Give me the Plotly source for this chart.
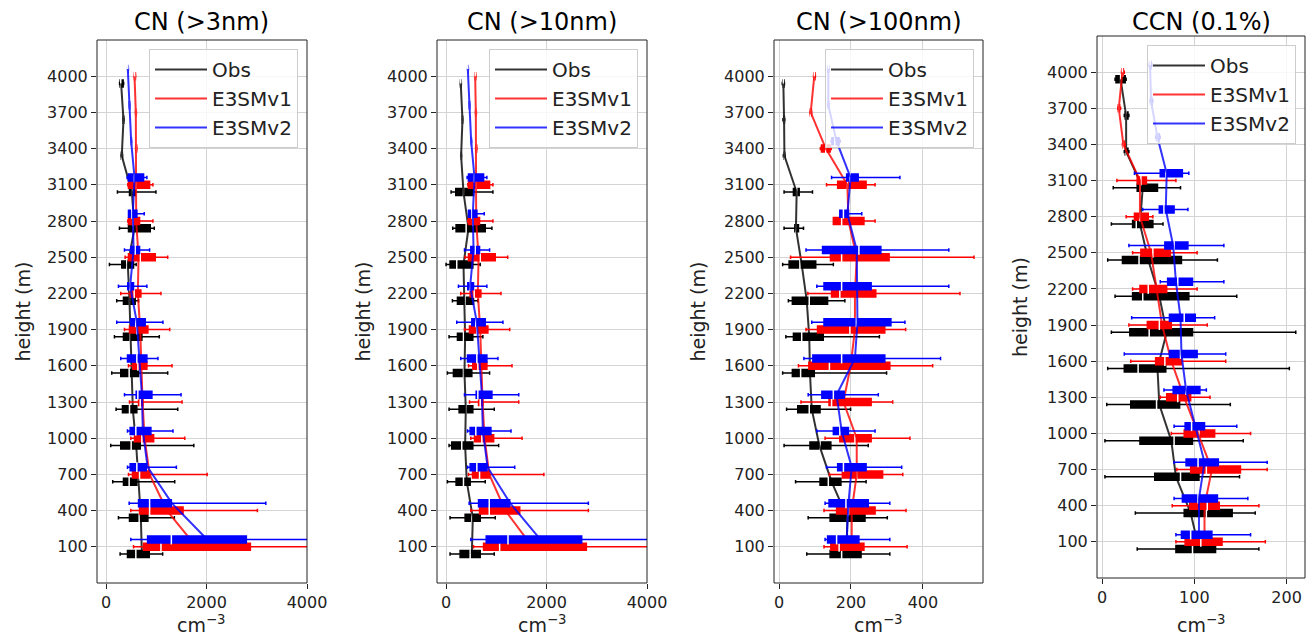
import plotly.graph_objects as go

W, H = 1307, 637

heights = [100, 400, 700, 1000, 1300, 1600, 1900, 2200, 2500, 2800, 3100, 3400, 3700, 4000]

# ---------------- CN (>3nm) ----------------
cn3_obs_lo   = [280, 247, 133, 93, 200, 113, 167, 213, 67, 267, 227, 300, 335, 270]
cn3_obs_q1   = [427, 467, 347, 293, 327, 293, 347, 347, 313, 447, 467, 305, 340, 280]
cn3_obs_med  = [593, 660, 460, 500, 467, 460, 480, 467, 413, 547, 513, 313, 347, 293]
cn3_obs_q3   = [860, 833, 613, 680, 613, 647, 713, 580, 547, 880, 580, 325, 355, 340]
cn3_obs_hi   = [1127, 1360, 1367, 1747, 1427, 1227, 1060, 647, 600, 960, 993, 330, 360, 350]
cn3_obs_mean = [713, 693, 647, 600, 533, 513, 493, 467, 433, 567, 513, 313, 347, 300]

cn3_v1_lo   = [547, 493, 447, 493, 467, 447, 367, 293, 380, 433, 433, 590, 585, 560]
cn3_v1_q1   = [747, 667, 527, 567, 647, 533, 467, 480, 447, 447, 447, 595, 590, 565]
cn3_v1_med  = [1093, 867, 667, 713, 680, 633, 613, 560, 680, 533, 600, 600, 593, 570]
cn3_v1_q3   = [2873, 1533, 867, 947, 733, 813, 833, 693, 980, 667, 867, 610, 600, 585]
cn3_v1_hi   = [4800, 3013, 2013, 1567, 1513, 1313, 1267, 1093, 1227, 933, 933, 615, 605, 590]
cn3_v1_mean = [1800, 1213, 867, 767, 727, 700, 680, 633, 647, 600, 600, 600, 593, 567]

cn3_v2_lo   = [493, 460, 427, 427, 367, 293, 213, 247, 367, 447, 420, 495, 460, 430]
cn3_v2_q1   = [827, 647, 480, 480, 600, 427, 493, 433, 493, 447, 447, 497, 462, 432]
cn3_v2_med  = [1300, 867, 613, 593, 633, 613, 593, 480, 580, 513, 560, 500, 467, 433]
cn3_v2_q3   = [2793, 1300, 800, 893, 913, 813, 780, 547, 667, 613, 747, 505, 472, 440]
cn3_v2_hi   = [4500, 3180, 1400, 1333, 1493, 1033, 1133, 813, 867, 760, 813, 510, 475, 445]
cn3_v2_mean = [2013, 1313, 827, 733, 713, 667, 613, 480, 547, 533, 567, 500, 467, 433]

# ---------------- CN (>10nm) ----------------
cn10_obs_lo   = [80, 80, 27, 60, 60, 27, 60, 127, 0, 133, 100, 295, 320, 285]
cn10_obs_q1   = [280, 380, 200, 113, 260, 147, 227, 227, 80, 200, 193, 297, 323, 288]
cn10_obs_med  = [480, 513, 347, 313, 400, 347, 347, 380, 213, 400, 347, 300, 327, 293]
cn10_obs_q3   = [680, 680, 480, 533, 533, 513, 533, 547, 533, 780, 547, 305, 332, 300]
cn10_obs_hi   = [960, 980, 780, 1047, 960, 867, 733, 633, 680, 913, 933, 310, 335, 305]
cn10_obs_mean = [513, 533, 413, 380, 393, 367, 380, 367, 347, 447, 347, 300, 327, 293]

cn10_v1_lo   = [547, 493, 447, 493, 467, 447, 367, 293, 380, 433, 433, 590, 585, 570]
cn10_v1_q1   = [747, 667, 527, 567, 647, 533, 467, 480, 447, 447, 447, 595, 590, 575]
cn10_v1_med  = [1067, 860, 667, 713, 680, 633, 613, 560, 680, 533, 600, 600, 593, 580]
cn10_v1_q3   = [2793, 1467, 867, 947, 733, 813, 833, 693, 980, 667, 867, 610, 600, 590]
cn10_v1_hi   = [4800, 2833, 1947, 1513, 1447, 1313, 1267, 1093, 1227, 933, 933, 615, 605, 595]
cn10_v1_mean = [1720, 1180, 860, 767, 727, 700, 680, 633, 647, 600, 600, 600, 593, 580]

cn10_v2_lo   = [493, 460, 427, 427, 367, 293, 213, 247, 367, 447, 420, 495, 460, 430]
cn10_v2_q1   = [800, 647, 480, 480, 600, 427, 513, 433, 493, 447, 447, 497, 462, 432]
cn10_v2_med  = [1233, 860, 613, 593, 633, 613, 593, 480, 580, 513, 560, 500, 467, 433]
cn10_v2_q3   = [2700, 1267, 813, 893, 913, 813, 780, 547, 667, 613, 747, 505, 472, 440]
cn10_v2_hi   = [4500, 2833, 1367, 1293, 1447, 1033, 1133, 813, 867, 760, 813, 510, 475, 445]
cn10_v2_mean = [1880, 1280, 827, 733, 713, 667, 613, 480, 547, 533, 567, 500, 467, 433]

# ---------------- CN (>100nm) ----------------
cn100_obs_lo   = [77, 81, 46, 14, 21, 10, 19, 26, 10, 14, 14, 12, 11, 9]
cn100_obs_q1   = [142, 142, 114, 86, 52, 37, 40, 37, 28, 44, 40, 14, 13, 11]
cn100_obs_med  = [174, 190, 137, 114, 84, 60, 63, 84, 58, 47, 49, 15, 14, 12]
cn100_obs_q3   = [228, 239, 172, 144, 114, 98, 123, 135, 102, 54, 56, 16, 15, 14]
cn100_obs_hi   = [308, 301, 242, 248, 199, 299, 279, 183, 151, 68, 93, 17, 16, 15]
cn100_obs_mean = [188, 190, 146, 112, 91, 86, 84, 77, 63, 47, 49, 15, 14, 12]

cn100_v1_lo   = [125, 125, 140, 128, 61, 54, 75, 80, 32, 151, 132, 115, 86, 96]
cn100_v1_q1   = [144, 160, 176, 169, 139, 83, 107, 146, 143, 151, 163, 118, 87, 97]
cn100_v1_med  = [167, 193, 216, 211, 146, 140, 197, 169, 174, 174, 190, 130, 88, 98]
cn100_v1_q3   = [236, 267, 288, 256, 256, 308, 294, 269, 306, 236, 242, 142, 90, 100]
cn100_v1_hi   = [356, 353, 344, 364, 316, 427, 352, 503, 542, 267, 267, 145, 91, 101]
cn100_v1_mean = [202, 202, 216, 216, 179, 199, 211, 211, 216, 193, 190, 130, 88, 98]

cn100_v2_lo   = [128, 128, 132, 105, 81, 69, 91, 105, 75, 169, 146, 145, 135, 135]
cn100_v2_q1   = [135, 139, 163, 151, 119, 94, 125, 125, 121, 169, 188, 147, 136, 136]
cn100_v2_med  = [160, 186, 179, 169, 151, 174, 215, 174, 222, 179, 197, 155, 137, 137]
cn100_v2_q3   = [222, 248, 242, 193, 181, 294, 311, 256, 283, 193, 220, 167, 138, 138]
cn100_v2_hi   = [308, 308, 341, 267, 276, 449, 350, 472, 472, 230, 336, 170, 139, 139]
cn100_v2_mean = [188, 193, 202, 174, 160, 211, 218, 218, 216, 190, 199, 160, 137, 137]

# ---------------- CCN (0.1%) ----------------
ccn_obs_lo   = [38, 36, 3, 3, 5, 6, 10, 14, 6, 10, 12, 24, 24, 14]
ccn_obs_q1   = [80, 89, 57, 41, 31, 24, 30, 33, 22, 33, 38, 25, 25, 15]
ccn_obs_med  = [98, 113, 85, 78, 59, 39, 51, 44, 40, 37, 41, 26, 26, 20]
ccn_obs_q3   = [123, 141, 105, 98, 84, 69, 98, 94, 86, 55, 60, 28, 28, 25]
ccn_obs_hi   = [170, 166, 149, 153, 139, 203, 210, 146, 125, 66, 85, 29, 29, 26]
ccn_obs_mean = [105, 96, 80, 75, 62, 60, 70, 62, 50, 41, 44, 26, 26, 20]

ccn_v1_lo   = [80, 76, 81, 75, 63, 31, 29, 33, 33, 26, 16, 22, 17, 21]
ccn_v1_q1   = [90, 95, 96, 89, 70, 58, 49, 41, 42, 35, 38, 22.5, 17.5, 21.5]
ccn_v1_med  = [107, 114, 113, 105, 82, 68, 62, 50, 55, 41, 42, 23, 18, 22]
ccn_v1_q3   = [130, 127, 150, 122, 96, 86, 75, 70, 74, 50, 48, 24, 19, 23]
ccn_v1_hi   = [177, 170, 179, 161, 117, 134, 114, 103, 103, 55, 80, 25, 20, 24]
ccn_v1_mean = [111, 111, 119, 104, 89, 75, 65, 59, 53, 41, 41, 23, 18, 22]

ccn_v2_lo   = [80, 78, 78, 78, 67, 24, 32, 63, 29, 44, 35, 58, 52, 51]
ccn_v2_q1   = [86, 87, 91, 90, 77, 73, 73, 71, 68, 62, 63, 59, 52.5, 51.5]
ccn_v2_med  = [96, 104, 104, 97, 91, 85, 89, 82, 78, 67, 69, 60, 53, 52]
ccn_v2_q3   = [119, 125, 126, 111, 106, 103, 101, 98, 93, 78, 87, 62, 54, 53]
ccn_v2_hi   = [161, 158, 179, 146, 113, 134, 122, 132, 132, 93, 94, 63, 55, 54]
ccn_v2_mean = [105, 105, 111, 101, 91, 86, 85, 80, 77, 69, 70, 60, 53, 52]

titles = ["CN (>3nm)", "CN (>10nm)", "CN (>100nm)", "CCN (0.1%)"]
series_names = ["Obs", "E3SMv1", "E3SMv2"]
series_colors = ["black", "#ff0000", "#0000ff"]
height_offsets = [-60, 0, 60]
x_ticks = [[0, 2000, 4000], [0, 2000, 4000], [0, 200, 400], [0, 100, 200]]
x_ranges = [[-180, 4000], [-180, 4000], [-14, 567], [-5.6, 220]]

panel_data = [
    [(cn3_obs_lo, cn3_obs_q1, cn3_obs_med, cn3_obs_q3, cn3_obs_hi, cn3_obs_mean),
     (cn3_v1_lo, cn3_v1_q1, cn3_v1_med, cn3_v1_q3, cn3_v1_hi, cn3_v1_mean),
     (cn3_v2_lo, cn3_v2_q1, cn3_v2_med, cn3_v2_q3, cn3_v2_hi, cn3_v2_mean)],
    [(cn10_obs_lo, cn10_obs_q1, cn10_obs_med, cn10_obs_q3, cn10_obs_hi, cn10_obs_mean),
     (cn10_v1_lo, cn10_v1_q1, cn10_v1_med, cn10_v1_q3, cn10_v1_hi, cn10_v1_mean),
     (cn10_v2_lo, cn10_v2_q1, cn10_v2_med, cn10_v2_q3, cn10_v2_hi, cn10_v2_mean)],
    [(cn100_obs_lo, cn100_obs_q1, cn100_obs_med, cn100_obs_q3, cn100_obs_hi, cn100_obs_mean),
     (cn100_v1_lo, cn100_v1_q1, cn100_v1_med, cn100_v1_q3, cn100_v1_hi, cn100_v1_mean),
     (cn100_v2_lo, cn100_v2_q1, cn100_v2_med, cn100_v2_q3, cn100_v2_hi, cn100_v2_mean)],
    [(ccn_obs_lo, ccn_obs_q1, ccn_obs_med, ccn_obs_q3, ccn_obs_hi, ccn_obs_mean),
     (ccn_v1_lo, ccn_v1_q1, ccn_v1_med, ccn_v1_q3, ccn_v1_hi, ccn_v1_mean),
     (ccn_v2_lo, ccn_v2_q1, ccn_v2_med, ccn_v2_q3, ccn_v2_hi, ccn_v2_mean)],
]

# pixel layout of each panel: (left, right, top, bottom)
panel_px = [(97, 307, 40, 583), (437, 647, 40, 583), (774, 983, 40, 583), (1097, 1305, 36, 578)]
ytitle_px = [22, 362, 697, 1020]

FONT = "DejaVu Sans"
fig = go.Figure()
layout = dict(
    width=W, height=H, margin=dict(l=0, r=0, t=0, b=0, pad=0, autoexpand=False),
    autosize=False, paper_bgcolor="white", plot_bgcolor="white",
    font=dict(family=FONT, color="black", size=16),
    annotations=[], shapes=[],
)

for i in range(4):
    xa = "x" if i == 0 else f"x{i+1}"
    ya = "y" if i == 0 else f"y{i+1}"
    leg = "legend" if i == 0 else f"legend{i+1}"
    l, r, t, b = panel_px[i]
    for k in range(3):
        lo, q1, med, q3, hi, mean = panel_data[i][k]
        pos = [h + height_offsets[k] for h in heights]
        c = series_colors[k]
        fig.add_trace(go.Box(
            y=pos, q1=q1, median=med, q3=q3, lowerfence=lo, upperfence=hi,
            orientation="h", width=58, whiskerwidth=0.5, boxpoints=False,
            fillcolor=c, line=dict(color=c, width=1.5),
            xaxis=xa, yaxis=ya, showlegend=False, hoverinfo="skip", zorder=2 * k))
        fig.add_trace(go.Scatter(
            x=med, y=pos, mode="markers",
            marker=dict(symbol="line-ns", size=7, color="white",
                        line=dict(color="white", width=1.5)),
            xaxis=xa, yaxis=ya, showlegend=False, hoverinfo="skip", zorder=2 * k + 1))
        fig.add_trace(go.Scatter(
            x=mean, y=pos, mode="lines", name=series_names[k],
            line=dict(color=c, width=2), opacity=0.8,
            xaxis=xa, yaxis=ya, legend=leg, hoverinfo="skip", zorder=2 * k + 1))

    xkey = "xaxis" if i == 0 else f"xaxis{i+1}"
    ykey = "yaxis" if i == 0 else f"yaxis{i+1}"
    layout[xkey] = dict(
        domain=[l / W, r / W], anchor=ya, range=x_ranges[i], tickvals=x_ticks[i],
        automargin=False,
        showgrid=True, gridcolor="#d4d4d4", gridwidth=1, zeroline=False,
        showline=True, linecolor="#222", linewidth=1, mirror=True, layer="above traces",
        ticks="outside", ticklen=5, tickcolor="#222",
        tickfont=dict(size=16, family=FONT, color="#222"))
    layout[ykey] = dict(
        domain=[1 - b / H, 1 - t / H], anchor=xa, range=[-200, 4300], tickvals=heights,
        automargin=False,
        showgrid=True, gridcolor="#d4d4d4", gridwidth=1, zeroline=False,
        showline=True, linecolor="#222", linewidth=1, mirror=True, layer="above traces",
        ticks="outside", ticklen=5, tickcolor="#222",
        tickfont=dict(size=16, family=FONT, color="#222"))
    layout[leg] = dict(
        x=(r - 9) / W, y=1 - (t + 9) / H, xanchor="right", yanchor="top",
        bgcolor="rgba(255,255,255,0.8)", bordercolor="#cccccc", borderwidth=1,
        itemwidth=52, font=dict(size=20, family=FONT, color="#222"))
    layout["shapes"].append(dict(
        type="rect", xref=f"{xa} domain", yref=f"{ya} domain", x0=0, x1=1, y0=0, y1=1,
        line=dict(color="#222", width=1), layer="above"))
    cx = (l + r) / 2
    layout["annotations"] += [
        dict(text=titles[i], x=cx / W, y=1 - 22 / H, xref="paper", yref="paper",
             showarrow=False, font=dict(size=24, family=FONT, color="black"),
             xanchor="center", yanchor="middle"),
        dict(text="height (m)", x=ytitle_px[i] / W, y=1 - (t + b) / 2 / H,
             xref="paper", yref="paper", showarrow=False, textangle=-90,
             font=dict(size=19, family=FONT, color="#222"),
             xanchor="center", yanchor="middle"),
        dict(text="cm<sup>\u22123</sup>", x=cx / W, y=1 - 624 / H,
             xref="paper", yref="paper", showarrow=False,
             font=dict(size=19, family=FONT, color="#222"),
             xanchor="center", yanchor="middle"),
    ]

fig.update_layout(**layout)
page_fix = (
    "document.documentElement.style.margin='0px';"
    "document.documentElement.style.overflow='hidden';"
    "document.body.style.margin='0px';"
    "document.body.style.overflow='hidden';"
)
fig.write_html("out.html", post_script=page_fix,
               config={"displayModeBar": False, "responsive": False})
